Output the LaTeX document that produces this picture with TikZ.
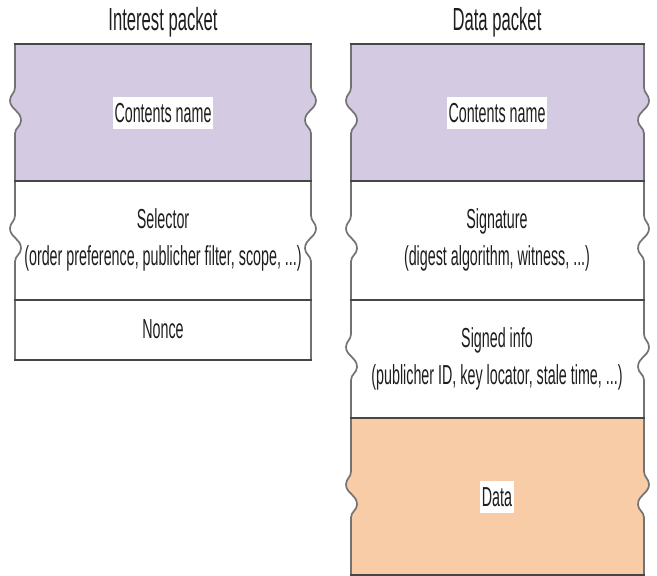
\documentclass[tikz,border=0pt]{standalone}
\usepackage{fontspec}
\setmainfont[FakeStretch=0.52]{Liberation Sans}
\definecolor{namefill}{RGB}{212,202,226}
\definecolor{datafill}{RGB}{248,204,166}
\definecolor{sideline}{RGB}{115,115,115}
\definecolor{rowline}{RGB}{70,70,70}
\definecolor{ink}{RGB}{30,30,30}

% torn edge: right side going down (bulges out to +x first)
\newcommand\tornright[2]{%
  -- (#1,#2-25) .. controls (#1,#2-19) and (#1+5,#2-18) .. (#1+5,#2-12)
  .. controls (#1+5,#2-3) and (#1-6,#2-2) .. (#1-6,#2+8)
  .. controls (#1-6,#2+14) and (#1,#2+15) .. (#1,#2+21)}
% torn edge: left side going up (bulges out to -x at the top)
\newcommand\tornleft[2]{%
  -- (#1,#2+21) .. controls (#1,#2+15) and (#1+6,#2+14) .. (#1+6,#2+8)
  .. controls (#1+6,#2-2) and (#1-5,#2-3) .. (#1-5,#2-12)
  .. controls (#1-5,#2-18) and (#1,#2-19) .. (#1,#2-25)}

% one field of a packet with torn sides: x1,x2,y1,y2,fill
\newcommand\tornfield[5]{%
  \pgfmathsetmacro\yc{(#3+#4)/2}%
  \fill[#5] (#1,#3) -- (#2,#3) \tornright{#2}{\yc} -- (#2,#4) -- (#1,#4) \tornleft{#1}{\yc} -- cycle;
  \draw[side] (#2,#3) \tornright{#2}{\yc} -- (#2,#4);
  \draw[side] (#1,#4) \tornleft{#1}{\yc} -- (#1,#3);
}

\tikzset{
  side/.style={draw=sideline, line width=1.7pt},
  row/.style={draw=rowline, line width=2.8pt},
  title/.style={font=\fontsize{32}{34}\selectfont, text=ink, inner sep=0pt},
  label/.style={font=\fontsize{27.5}{37}\selectfont, text=ink, align=center, inner sep=0pt},
  tag/.style={label, fill=white, inner xsep=1.5pt, inner ysep=6pt}
}

\begin{document}
\begin{tikzpicture}[x=1pt, y=-1pt]
  \useasboundingbox (0,0) rectangle (657,576);

  % ---- Interest packet ----
  \node[title] (ititle) at (163,22) {Interest packet};
  \tornfield{15}{311}{44}{181}{namefill}
  \tornfield{15}{311}{181}{300}{white}
  \draw[side] (15,300) -- (15,360);
  \draw[side] (311,300) -- (311,360);
  \draw[row] (14,44) -- (312,44);
  \draw[row] (14,181) -- (312,181);
  \draw[row] (14,300) -- (312,300);
  \draw[row] (14,360) -- (312,360);
  \node[tag] (iname) at (163,113) {Contents name};
  \node[label] (isel) at (163,240) {Selector\\(order preference, publicher filter, scope, ...)};
  \node[label] (inonce) at (163,329) {Nonce};

  % ---- Data packet ----
  \node[title] (dtitle) at (497,22) {Data packet};
  \tornfield{351}{644}{44}{181}{namefill}
  \tornfield{351}{644}{181}{300}{white}
  \tornfield{351}{644}{300}{418}{white}
  \tornfield{351}{644}{418}{575}{datafill}
  \draw[row] (350,44) -- (645,44);
  \draw[row] (350,181) -- (645,181);
  \draw[row] (350,300) -- (645,300);
  \draw[row] (350,418) -- (645,418);
  \draw[row] (350,575) -- (645,575);
  \node[tag] (dname) at (497,113) {Contents name};
  \node[label] (dsig) at (497,240) {Signature\\(digest algorithm, witness, ...)};
  \node[label] (dinfo) at (497,359) {Signed info\\(publicher ID, key locator, stale time, ...)};
  \node[tag] (ddata) at (497,497) {Data};
\end{tikzpicture}
\end{document}
